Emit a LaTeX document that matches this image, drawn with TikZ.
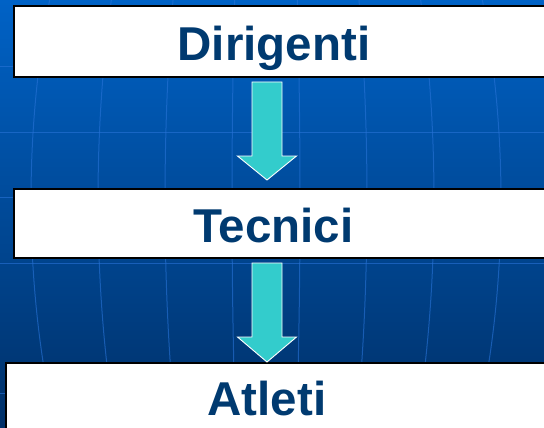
\documentclass[tikz,border=0pt]{standalone}
\usepackage{fontspec}
\setmainfont{Liberation Sans}
\usetikzlibrary{calc}
\definecolor{bgtop}{RGB}{0,98,198}
\definecolor{bgmid}{RGB}{0,74,152}
\definecolor{bgbot}{RGB}{0,48,104}
\definecolor{gridc}{RGB}{40,115,215}
\definecolor{txt}{RGB}{0,58,112}
\definecolor{arrc}{RGB}{51,204,204}
\tikzset{
  boxnode/.style={draw=black, line width=2pt, fill=white, rectangle, inner sep=0pt, anchor=north west, minimum width=560pt},
  lbl/.style={text=txt, font=\fontsize{47.5}{50}\selectfont\bfseries, inner sep=0pt, anchor=base},
  gridline/.style={draw=gridc, line width=1pt, opacity=0.6},
  blockarrow/.style={fill=arrc, draw=white, line width=0.9pt, line join=miter},
}
\begin{document}
\begin{tikzpicture}[x=1pt,y=-1pt]
  \useasboundingbox (0,0) rectangle (544,428);
  \clip (0,0) rectangle (544,428);
  % background
  \shade[top color=bgtop, middle color=bgmid, bottom color=bgbot] (0,0) rectangle (544,428);
  % globe grid
  \foreach \o in {-302,-235,-168,-101,-34,34,101,168,235,302}
    \draw[gridline] plot[domain=0:428, samples=40, smooth] ({266+\o*sqrt(1-((\x-200)/512)^2)},\x);
  \foreach \yy in {67,132,197,263,393}
    \draw[gridline] (0,\yy) -- (544,\yy);
  % boxes
  \node[boxnode, minimum height=71pt] (b1) at (13,5) {};
  \node[boxnode, minimum height=69pt] (b2) at (13,188) {};
  \node[boxnode, minimum height=80pt] (b3) at (5,362) {};
  % labels
  \node[lbl] (t1) at (274,61) {Dirigenti};
  \node[lbl] (t2) at (273.5,242) {Tecnici};
  \node[lbl] (t3) at (267,415) {Atleti};
  % arrows
  \coordinate (a1s) at (267,82);
  \coordinate (a1e) at (267,180);
  \coordinate (a2s) at (267,263);
  \coordinate (a2e) at (267,362);
  \draw[blockarrow] ($(a1s)+(-15,0)$) -- ($(a1s)+(15,0)$) -- ($(a1e)+(15,-24)$) -- ($(a1e)+(29.5,-24)$) -- (a1e) -- ($(a1e)+(-29.5,-24)$) -- ($(a1e)+(-15,-24)$) -- cycle;
  \draw[blockarrow] ($(a2s)+(-15,0)$) -- ($(a2s)+(15,0)$) -- ($(a2e)+(15,-25)$) -- ($(a2e)+(29.5,-25)$) -- (a2e) -- ($(a2e)+(-29.5,-25)$) -- ($(a2e)+(-15,-25)$) -- cycle;
\end{tikzpicture}
\end{document}
